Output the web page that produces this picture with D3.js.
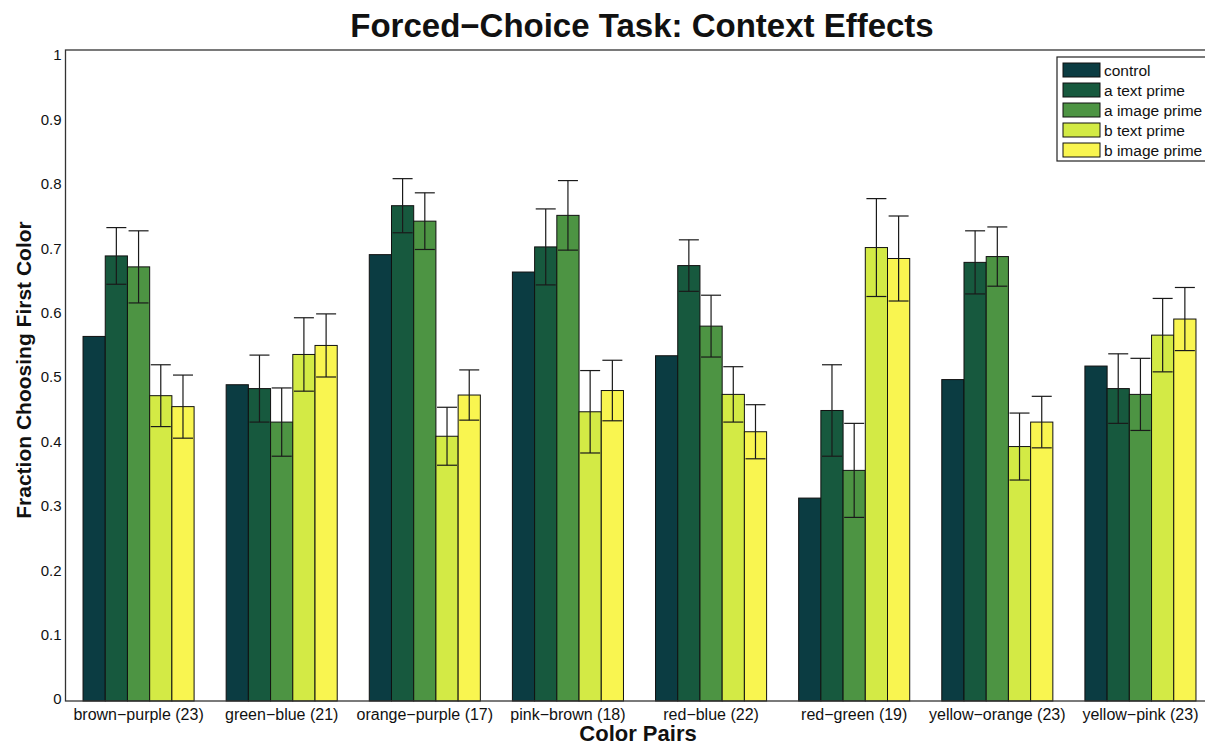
<!DOCTYPE html>
<html>
<head>
<meta charset="utf-8">
<script src="https://cdn.jsdelivr.net/npm/d3@7"></script>
<style>
  html, body { margin: 0; padding: 0; background: #fff; }
  svg { display: block; font-family: "Liberation Sans", Arial, Helvetica, sans-serif; }
</style>
</head>
<body>
<svg id="chart" width="1205" height="747"></svg>
<script>
// Colour pairs shown on the x axis (number of participants in brackets)
const categories = [
  "brown\u2212purple (23)", "green\u2212blue (21)", "orange\u2212purple (17)", "pink\u2212brown (18)",
  "red\u2212blue (22)", "red\u2212green (19)", "yellow\u2212orange (23)", "yellow\u2212pink (23)"
];

// Condition names, in bar order within each group
const seriesNames = ["control", "a text prime", "a image prime", "b text prime", "b image prime"];
const seriesColors = ["#0b3c42", "#17593e", "#4d9443", "#d3ea45", "#f9f550"];

// Fraction choosing the first colour, per condition
const control     = [0.563, 0.488, 0.690, 0.663, 0.533, 0.312, 0.496, 0.517];
const aTextPrime  = [0.688, 0.482, 0.766, 0.702, 0.673, 0.448, 0.678, 0.482];
const aImagePrime = [0.671, 0.430, 0.742, 0.751, 0.579, 0.355, 0.687, 0.473];
const bTextPrime  = [0.471, 0.535, 0.408, 0.446, 0.473, 0.701, 0.392, 0.565];
const bImagePrime = [0.454, 0.549, 0.472, 0.479, 0.415, 0.684, 0.430, 0.590];

// Standard errors (control condition has none)
const aTextErr  = [0.044, 0.052, 0.042, 0.059, 0.040, 0.071, 0.049, 0.054];
const aImageErr = [0.056, 0.053, 0.044, 0.054, 0.048, 0.073, 0.046, 0.056];
const bTextErr  = [0.048, 0.057, 0.045, 0.064, 0.043, 0.076, 0.052, 0.057];
const bImageErr = [0.049, 0.049, 0.039, 0.047, 0.042, 0.066, 0.040, 0.049];

const yTicks = [0, 0.1, 0.2, 0.3, 0.4, 0.5, 0.6, 0.7, 0.8, 0.9, 1];

const seriesValues = [control, aTextPrime, aImagePrime, bTextPrime, bImagePrime];
const seriesErrors = [null, aTextErr, aImageErr, bTextErr, bImageErr];

const rows = [];
categories.forEach((cat, i) => {
  seriesNames.forEach((s, j) => {
    rows.push({
      cat, series: s, idx: j,
      value: seriesValues[j][i],
      err: seriesErrors[j] ? seriesErrors[j][i] : null
    });
  });
});

const svg = d3.select("#chart");

// Axes box (the right side runs past the edge of the page)
const box = { left: 65.5, top: 50, right: 1212, bottom: 701 };

const y = d3.scaleLinear().domain([0, 1]).range([699, 55]);
const x0 = d3.scaleBand()
  .domain(categories)
  .range([67, 1212])
  .paddingInner(0.224)
  .paddingOuter(0.112);
const x1 = d3.scaleBand()
  .domain(seriesNames)
  .range([0, x0.bandwidth()]);
const color = d3.scaleOrdinal().domain(seriesNames).range(seriesColors);

// Bars
const g = svg.append("g");
g.selectAll("rect.bar")
  .data(rows)
  .join("rect")
  .attr("class", "bar")
  .attr("x", d => x0(d.cat) + x1(d.series))
  .attr("y", d => y(d.value))
  .attr("width", x1.bandwidth())
  .attr("height", d => y(0) - y(d.value) + 2)
  .attr("fill", d => color(d.series))
  .attr("stroke", "#111")
  .attr("stroke-width", 1);

// Error bars
const capHalf = x1.bandwidth() * 0.45;
const cx = d => x0(d.cat) + x1(d.series) + x1.bandwidth() / 2;
const eb = g.selectAll("g.err")
  .data(rows.filter(d => d.err !== null))
  .join("g")
  .attr("class", "err")
  .attr("stroke", "#1a1a1a")
  .attr("stroke-width", 1.2);
eb.append("line")
  .attr("x1", cx).attr("x2", cx)
  .attr("y1", d => y(d.value - d.err))
  .attr("y2", d => y(d.value + d.err));
eb.append("line")
  .attr("x1", d => cx(d) - capHalf).attr("x2", d => cx(d) + capHalf)
  .attr("y1", d => y(d.value + d.err))
  .attr("y2", d => y(d.value + d.err));
eb.append("line")
  .attr("x1", d => cx(d) - capHalf).attr("x2", d => cx(d) + capHalf)
  .attr("y1", d => y(d.value - d.err))
  .attr("y2", d => y(d.value - d.err));

// Axes frame
svg.append("rect")
  .attr("x", box.left).attr("y", box.top)
  .attr("width", box.right - box.left).attr("height", box.bottom - box.top)
  .attr("fill", "none").attr("stroke", "#333").attr("stroke-width", 1.3);

// Y axis tick labels
const yAxis = d3.axisLeft(y).tickValues(yTicks).tickSize(0).tickPadding(4)
  .tickFormat(d => d === 0 ? "0" : d === 1 ? "1" : d3.format(".1f")(d));
const ya = svg.append("g").attr("transform", `translate(${box.left},0)`).call(yAxis);
ya.select(".domain").remove();
ya.selectAll("text").attr("font-size", 15).attr("fill", "#111")
  .attr("font-family", "Liberation Sans, Arial, sans-serif");

// X axis tick labels
const xAxis = d3.axisBottom(x0).tickSize(0).tickPadding(8);
const xa = svg.append("g").attr("transform", `translate(0,${box.bottom})`).call(xAxis);
xa.select(".domain").remove();
xa.selectAll("text").attr("font-size", 16).attr("fill", "#111")
  .attr("font-family", "Liberation Sans, Arial, sans-serif");

// Title and axis titles
svg.append("text")
  .attr("x", 642).attr("y", 37)
  .attr("text-anchor", "middle")
  .attr("font-size", 33).attr("font-weight", "bold").attr("fill", "#111")
  .text("Forced\u2212Choice Task: Context Effects");

svg.append("text")
  .attr("transform", "translate(31,370) rotate(-90)")
  .attr("text-anchor", "middle")
  .attr("font-size", 21).attr("font-weight", "bold").attr("fill", "#111")
  .text("Fraction Choosing First Color");

svg.append("text")
  .attr("x", 638).attr("y", 741)
  .attr("text-anchor", "middle")
  .attr("font-size", 22).attr("font-weight", "bold").attr("fill", "#111")
  .text("Color Pairs");

// Legend
const legend = svg.append("g");
legend.append("rect")
  .attr("x", 1057).attr("y", 57).attr("width", 160).attr("height", 104)
  .attr("fill", "#fff").attr("stroke", "#222").attr("stroke-width", 1.2);
const li = legend.selectAll("g.item")
  .data(seriesNames)
  .join("g")
  .attr("class", "item")
  .attr("transform", (d, i) => `translate(0,${70 + i * 20})`);
li.append("rect")
  .attr("x", 1063).attr("y", -7).attr("width", 37).attr("height", 14)
  .attr("fill", d => color(d)).attr("stroke", "#111").attr("stroke-width", 1);
li.append("text")
  .attr("x", 1104).attr("y", 5.5)
  .attr("font-size", 15.5).attr("fill", "#111")
  .text(d => d);
</script>
</body>
</html>
